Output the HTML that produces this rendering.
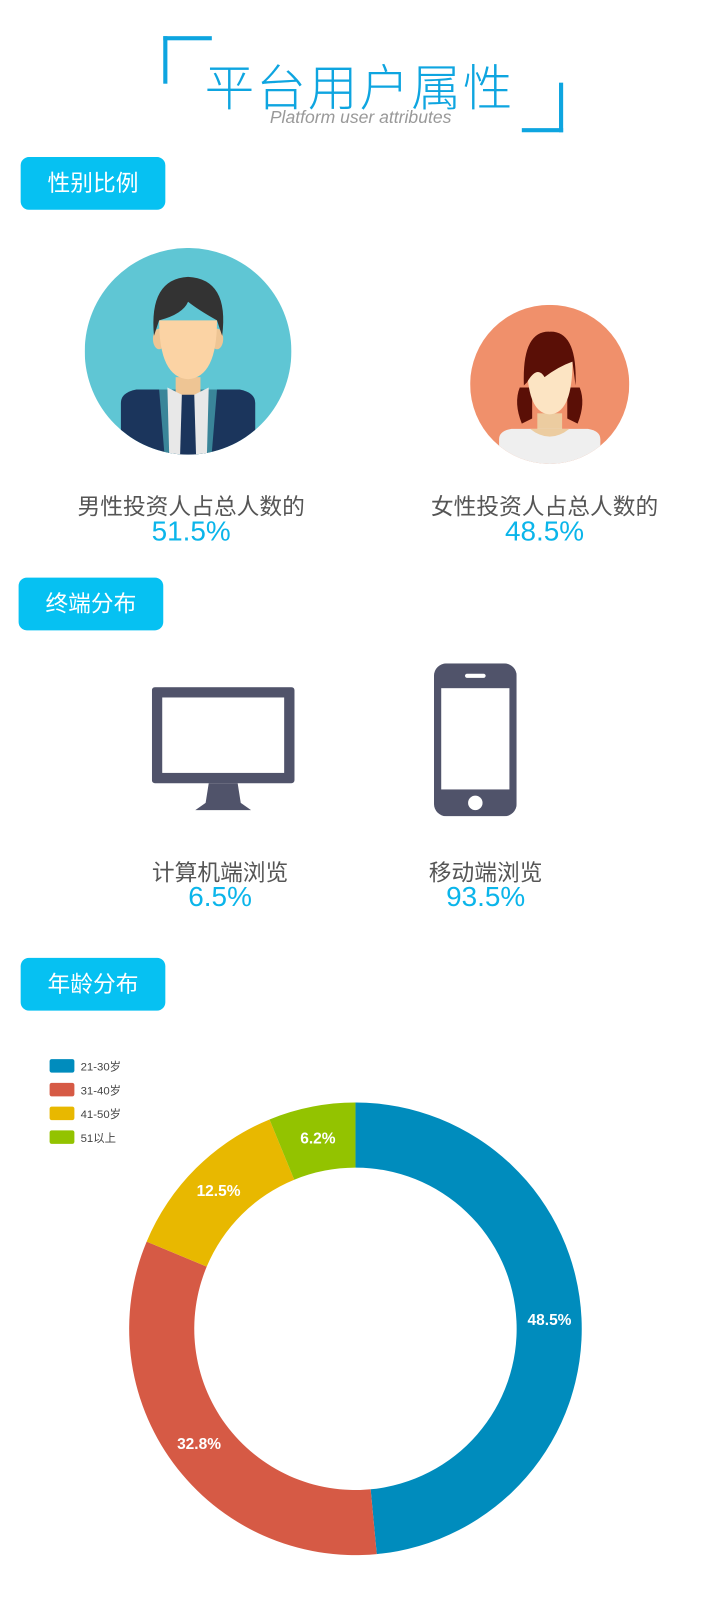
<!DOCTYPE html>
<html><head><meta charset="utf-8">
<style>
body{margin:0;width:720px;height:1620px;background:#fff;position:relative;overflow:hidden;font-family:"Liberation Sans","Noto Sans CJK SC",sans-serif}
#wrap{position:absolute;left:0;top:0;width:700px;height:1570px;transform:scale(1.0333);transform-origin:0 0}
.abs{position:absolute}
.badge{position:absolute;width:140px;height:51px;background:#06c1f2;border-radius:8px;color:#fff;font-size:22px;line-height:51px;text-align:center}
.lbl{position:absolute;width:300px;text-align:center;color:#555;font-size:22px}
.pct{position:absolute;width:300px;text-align:center;color:#0bb5ea;font-size:27px}
</style></head><body>
<div id="wrap">
<div class="abs" style="left:158px;top:35px;width:4px;height:46px;background:#0ea5e0"></div>
<div class="abs" style="left:158px;top:35px;width:47px;height:4px;background:#0ea5e0"></div>
<div class="abs" style="left:541px;top:80px;width:4px;height:48px;background:#0ea5e0"></div>
<div class="abs" style="left:505px;top:124px;width:40px;height:4px;background:#0ea5e0"></div>
<div class="abs" style="left:193px;top:46px;width:310px;text-align:center;font-size:48px;color:#0ea5e0;font-weight:300;letter-spacing:2px">平台用户属性</div>
<div class="abs" style="left:239px;top:104px;width:220px;text-align:center;font-size:17px;color:#999;font-style:italic">Platform user attributes</div>

<div class="badge" style="left:20px;top:152px">性别比例</div>

<svg class="abs" style="left:82px;top:240px" width="200" height="200" viewBox="0 0 200 200">
<defs><clipPath id="cm"><circle cx="100" cy="100" r="100"/></clipPath></defs>
<circle cx="100" cy="100" r="100" fill="#5fc6d4"/>
<g clip-path="url(#cm)">
<path d="M35 150 Q35 140 50 137 L150 137 Q165 140 165 150 L165 210 L35 210Z" fill="#1b355c"/>
<path d="M72 137 L128 137 L122 210 L78 210Z" fill="#3a8599"/>
<rect x="88" y="125" width="24" height="20" fill="#eec594"/>
<path d="M80 135 L100 145 L120 135 L118 210 L82 210Z" fill="#e8e8e8"/>
<path d="M94 142 L106 142 L108 210 L92 210Z" fill="#1b355c"/>
<ellipse cx="72" cy="88" rx="6" ry="10" fill="#eec594"/><ellipse cx="128" cy="88" rx="6" ry="10" fill="#eec594"/>
<path d="M72 70 Q72 125 100 127 Q128 125 128 70Z" fill="#fbd3a4"/>
<path d="M67 85 Q62 30 100 28 Q140 30 133 85 L128 70 Q110 60 100 52 Q95 64 72 70Z" fill="#333"/>
</g></svg>

<svg class="abs" style="left:455px;top:295px" width="154" height="154" viewBox="0 0 154 154">
<defs><clipPath id="cf"><circle cx="77" cy="77" r="77"/></clipPath></defs>
<circle cx="77" cy="77" r="77" fill="#f0906b"/>
<g clip-path="url(#cf)">
<path d="M48 80 Q42 95 50 115 L60 110 L60 80Z M106 80 Q112 95 104 115 L94 110 L94 80Z" fill="#5a0f06"/>
<rect x="65" y="105" width="24" height="25" fill="#eccca0"/>
<path d="M28 130 Q28 122 40 120 L114 120 Q126 122 126 130 L126 160 L28 160Z" fill="#efefef"/>
<path d="M58 120 Q77 135 96 120Z" fill="#eccca0"/>
<path d="M55 55 Q55 105 77 106 Q99 105 99 55Z" fill="#fce4c3"/>
<path d="M52 78 Q50 25 77 26 Q104 25 102 78 L99 55 Q85 60 72 70 Q65 58 55 75Z" fill="#5a0f06"/>
</g></svg>

<div class="lbl" style="left:35px;top:473px">男性投资人占总人数的</div>
<div class="pct" style="left:35px;top:499px">51.5%</div>
<div class="lbl" style="left:377px;top:473px">女性投资人占总人数的</div>
<div class="pct" style="left:377px;top:499px">48.5%</div>

<div class="badge" style="left:18px;top:559px">终端分布</div>

<svg class="abs" style="left:147px;top:665px" width="138" height="120" viewBox="0 0 138 120">
<rect x="0" y="0" width="138" height="93" rx="3" fill="#50536a"/>
<rect x="10" y="10" width="118" height="73" fill="#fff"/>
<path d="M55 93 L83 93 L86 112 L96 119 L42 119 L52 112Z" fill="#50536a"/>
</svg>
<svg class="abs" style="left:420px;top:642px" width="80" height="148" viewBox="0 0 80 148">
<rect x="0" y="0" width="80" height="148" rx="12" fill="#50536a"/>
<rect x="7" y="24" width="66" height="98" fill="#fff"/>
<rect x="30" y="10" width="20" height="4" rx="2" fill="#fff"/>
<circle cx="40" cy="135" r="7" fill="#fff"/>
</svg>

<div class="lbl" style="left:63px;top:827px">计算机端浏览</div>
<div class="pct" style="left:63px;top:853px">6.5%</div>
<div class="lbl" style="left:320px;top:827px">移动端浏览</div>
<div class="pct" style="left:320px;top:853px">93.5%</div>

<div class="badge" style="left:20px;top:927px">年龄分布</div>

<svg class="abs" id="chart" style="left:0;top:1000px" width="700" height="570"></svg>
</div>
<script>
const categories=["21-30岁","31-40岁","41-50岁","51以上"];
const values=[48.5,32.8,12.5,6.2];
const labels=["48.5%","32.8%","12.5%","6.2%"];
const colors=["#008cbd","#d65a45","#e8b800","#93c300"];
const NS="http://www.w3.org/2000/svg";
const svg=document.getElementById('chart');
const cx=344,cy=286,R=219,r=156;
const total=values.reduce((a,b)=>a+b,0);
function pt(rad,a){return [cx+rad*Math.sin(a),cy-rad*Math.cos(a)];}
let a0=0;
values.forEach((v,i)=>{
  const a1=a0+v/total*2*Math.PI;
  const large=(a1-a0)>Math.PI?1:0;
  const p1=pt(R,a0),p2=pt(R,a1),p3=pt(r,a1),p4=pt(r,a0);
  const p=document.createElementNS(NS,'path');
  p.setAttribute('d',`M${p1} A${R} ${R} 0 ${large} 1 ${p2} L${p3} A${r} ${r} 0 ${large} 0 ${p4}Z`);
  p.setAttribute('fill',colors[i]);
  
  
  svg.appendChild(p);
  const m=(a0+a1)/2,lp=pt(188,m);
  const t=document.createElementNS(NS,'text');
  t.setAttribute('x',lp[0]);t.setAttribute('y',lp[1]+5);
  t.setAttribute('text-anchor','middle');t.setAttribute('fill','#fff');
  t.setAttribute('font-size','15');t.setAttribute('font-weight','bold');
  t.setAttribute('font-family','Liberation Sans, sans-serif');
  t.textContent=labels[i];
  
  
  svg.appendChild(t);
  a0=a1;
});
categories.forEach((c,i)=>{
  const y=25+i*23;
  const s=document.createElementNS(NS,'rect');
  s.setAttribute('x',48);s.setAttribute('y',y);s.setAttribute('width',24);s.setAttribute('height',13);
  s.setAttribute('rx',2);s.setAttribute('fill',colors[i]);
  
  
  svg.appendChild(s);
  const t=document.createElementNS(NS,'text');
  t.setAttribute('x',78);t.setAttribute('y',y+11);
  t.setAttribute('font-size','11');t.setAttribute('fill','#444');
  t.setAttribute('font-family','Liberation Sans, Noto Sans CJK SC, sans-serif');
  t.textContent=c;
  
  
  svg.appendChild(t);
});
</script>
</body></html>
